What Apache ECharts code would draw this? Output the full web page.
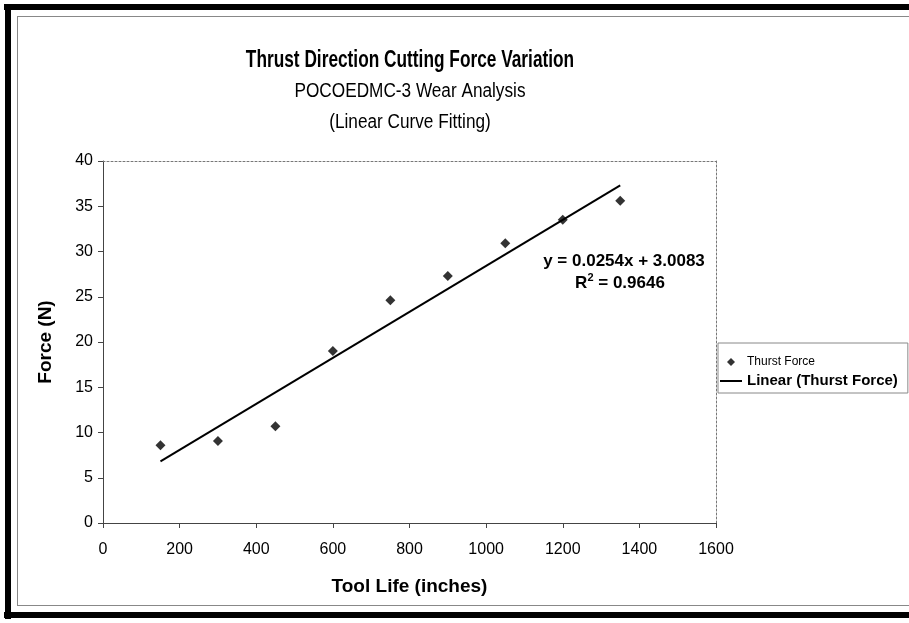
<!DOCTYPE html>
<html>
<head>
<meta charset="utf-8">
<script src="https://cdn.jsdelivr.net/npm/echarts@6/dist/echarts.min.js"></script>
<style>
  html, body { margin: 0; padding: 0; background: #fff; }
  #chart { width: 909px; height: 623px; }
</style>
</head>
<body>
<div id="chart"></div>
<script>
// values
const toolLife = [150, 300, 450, 600, 750, 900, 1050, 1200, 1350];
const thrustForce = [8.6, 9.05, 10.7, 19.0, 24.6, 27.3, 30.9, 33.5, 35.6];
const trendX = [150, 1350];
const trendY = [6.82, 37.3];
const xTicks = [0, 200, 400, 600, 800, 1000, 1200, 1400, 1600];
const yTicks = [0, 5, 10, 15, 20, 25, 30, 35, 40];

const FONT = "'Liberation Sans', Arial, sans-serif";

const dom = document.getElementById("chart");
const chart = echarts.init(dom, null, { renderer: "canvas" });

const axisCommon = {
  type: "value",
  splitLine: { show: false },
  axisLine: { show: true, onZero: false, lineStyle: { color: "#444", width: 1 } },
  axisTick: { show: true, length: 5, lineStyle: { color: "#444" } },
};

// narrow-looking title lines (no condensed font installed, so squeeze horizontally)
function titleLine(text, y, size, weight, squeeze) {
  return {
    type: "text",
    x: 410,
    y: y,
    scaleX: squeeze,
    style: {
      x: 0, y: 0,
      text: text,
      align: "center",
      verticalAlign: "middle",
      fontFamily: FONT,
      fontSize: size,
      fontWeight: weight,
      fill: "#000",
    },
  };
}

const option = {
  backgroundColor: "#fff",
  animation: false,
  grid: { left: 103, right: 193, top: 161, bottom: 100, containLabel: false },
  legend: {
    orient: "vertical",
    left: 718,
    top: 343,
    padding: [11, 10, 4, 2],
    itemGap: 3,
    itemWidth: 22,
    itemHeight: 8,
    symbolKeepAspect: true,
    borderColor: "#888",
    borderWidth: 1,
    data: [
      {
        name: "Thurst Force",
        icon: "path://M5,0L10,5L5,10L0,5Z",
        itemStyle: { color: "#000" },
        textStyle: { fontFamily: FONT, fontSize: 12, color: "#000", lineHeight: 16 },
      },
      {
        name: "Linear (Thurst Force)",
        icon: "path://M0,0H22V2H0Z",
        itemStyle: { color: "#000" },
        textStyle: { fontFamily: FONT, fontSize: 15, fontWeight: "bold", color: "#000", lineHeight: 16 },
      },
    ],
  },
  xAxis: [
    Object.assign({}, axisCommon, {
      min: xTicks[0],
      max: xTicks[xTicks.length - 1],
      interval: 200,
      position: "bottom",
      name: "Tool Life (inches)",
      nameLocation: "middle",
      nameGap: 54,
      nameTextStyle: { fontFamily: FONT, fontSize: 19, fontWeight: "bold", color: "#000" },
      axisLabel: { margin: 19, fontFamily: FONT, fontSize: 16, color: "#000", formatter: (v) => String(v) },
    }),
    {
      type: "value",
      position: "top",
      min: xTicks[0],
      max: xTicks[xTicks.length - 1],
      axisLine: { show: true, onZero: false, lineStyle: { color: "#777", type: [2, 2] } },
      axisTick: { show: false },
      axisLabel: { show: false },
      splitLine: { show: false },
    },
  ],
  yAxis: [
    Object.assign({}, axisCommon, {
      min: yTicks[0],
      max: yTicks[yTicks.length - 1],
      interval: 5,
      position: "left",
      name: "Force (N)",
      nameLocation: "middle",
      nameGap: 48,
      nameTextStyle: { fontFamily: FONT, fontSize: 19, fontWeight: "bold", color: "#000" },
      axisLabel: { margin: 10, fontFamily: FONT, fontSize: 16, color: "#000", formatter: (v) => String(v) },
    }),
    {
      type: "value",
      position: "right",
      min: yTicks[0],
      max: yTicks[yTicks.length - 1],
      axisLine: { show: true, onZero: false, lineStyle: { color: "#777", type: [2, 2] } },
      axisTick: { show: false },
      axisLabel: { show: false },
      splitLine: { show: false },
    },
  ],
  series: [
    {
      name: "Thurst Force",
      type: "scatter",
      symbol: "diamond",
      symbolSize: 10,
      itemStyle: { color: "#000" },
      data: toolLife.map((x, i) => [x, thrustForce[i]]),
      z: 3,
    },
    {
      name: "Linear (Thurst Force)",
      type: "line",
      symbol: "none",
      itemStyle: { color: "#000" },
      lineStyle: { color: "#000", width: 2 },
      data: trendX.map((x, i) => [x, trendY[i]]),
      z: 2,
    },
  ],
  graphic: [
    // outer frame
    { type: "rect", shape: { x: 4, y: 4, width: 905, height: 6 }, style: { fill: "#000" } },
    { type: "rect", shape: { x: 5, y: 4, width: 6, height: 615 }, style: { fill: "#000" } },
    { type: "rect", shape: { x: 4, y: 612, width: 905, height: 6 }, style: { fill: "#000" } },
    { type: "line", shape: { x1: 17, y1: 16.5, x2: 909, y2: 16.5 }, style: { stroke: "#888", lineWidth: 1 } },
    { type: "line", shape: { x1: 17.5, y1: 16, x2: 17.5, y2: 606 }, style: { stroke: "#888", lineWidth: 1 } },
    { type: "line", shape: { x1: 17, y1: 605.5, x2: 909, y2: 605.5 }, style: { stroke: "#888", lineWidth: 1 } },
    // titles
    titleLine("Thrust Direction Cutting Force Variation", 60, 24, "bold", 0.72),
    titleLine("POCOEDMC-3 Wear Analysis", 91, 20, "normal", 0.86),
    titleLine("(Linear Curve Fitting)", 122, 20, "normal", 0.86),
    // trendline equation
    {
      type: "text",
      x: 624,
      y: 261,
      style: {
        x: 0, y: 0,
        text: "y = 0.0254x + 3.0083",
        align: "center",
        verticalAlign: "middle",
        fontFamily: FONT, fontSize: 17, fontWeight: "bold", fill: "#000",
      },
    },
    {
      type: "text",
      x: 620,
      y: 282,
      style: {
        x: 0, y: 0,
        text: "{a|R}{s|2}{a| = 0.9646}",
        align: "center",
        verticalAlign: "middle",
        fontFamily: FONT,
        fill: "#000",
        rich: {
          a: { fontFamily: FONT, fontSize: 17, fontWeight: "bold", verticalAlign: "bottom" },
          s: { fontFamily: FONT, fontSize: 11, fontWeight: "bold", verticalAlign: "top", padding: [0, 0, 8, 0] },
        },
      },
    },
  ],
};

chart.setOption(option);
</script>
</body>
</html>
